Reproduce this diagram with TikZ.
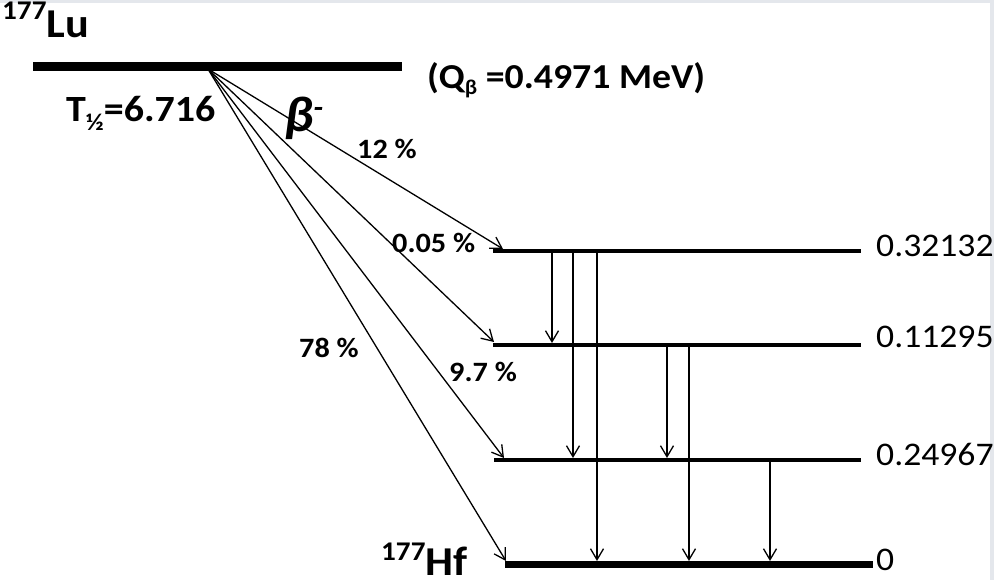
\documentclass[tikz,border=0pt]{standalone}
\usepackage{fontspec}
\setmainfont[FakeStretch=1.08]{Carlito}
\usetikzlibrary{arrows.meta}
\definecolor{bordergray}{RGB}{228,231,236}
\begin{document}
\begin{tikzpicture}[x=1pt,y=-1pt,
  lvl/.style={line width=4.5pt},
  arr/.style={line width=1.3pt,-{Straight Barb[length=11pt,width=13pt]}},
  pct/.style={font=\fontsize{28}{28}\selectfont\bfseries,anchor=base west,inner sep=0pt},
  en/.style={font=\fontsize{33}{33}\selectfont,anchor=base west,inner sep=0pt},
  big/.style={anchor=base west,inner sep=0pt}]
\useasboundingbox (0,0) rectangle (994,580);
\clip (0,0) rectangle (994,580);
\fill[white] (0,0) rectangle (994,580);
\fill[bordergray] (0,0) rectangle (994,3);
\fill[bordergray] (990,0) rectangle (994,580);
% level end points
\coordinate (luA) at (33,67);  \coordinate (luB) at (402,67);
\coordinate (l1A) at (493,251); \coordinate (l1B) at (861,251);
\coordinate (l2A) at (493,345); \coordinate (l2B) at (861,345);
\coordinate (l3A) at (494,460); \coordinate (l3B) at (861,460);
\coordinate (l0A) at (505,564); \coordinate (l0B) at (873,564);
\draw[line width=9pt] (luA) -- (luB);
\draw[lvl] (l1A) -- (l1B);
\draw[lvl] (l2A) -- (l2B);
\draw[lvl] (l3A) -- (l3B);
\draw[line width=7pt] (l0A) -- (l0B);
% beta branches
\coordinate (o) at (208,69);
\coordinate (b1) at (503,249);
\coordinate (b2) at (494,342);
\coordinate (b3) at (504,458);
\coordinate (b4) at (506,561);
\draw[arr] (o) -- (b1);
\draw[arr] (o) -- (b2);
\draw[arr] (o) -- (b3);
\draw[arr] (o) -- (b4);
% gamma transitions
\coordinate (g1s) at (552,253); \coordinate (g1e) at (552,343);
\coordinate (g2s) at (573,253); \coordinate (g2e) at (573,458);
\coordinate (g3s) at (597,253); \coordinate (g3e) at (597,561);
\coordinate (g4s) at (667,347); \coordinate (g4e) at (667,458);
\coordinate (g5s) at (689,347); \coordinate (g5e) at (689,561);
\coordinate (g6s) at (770,462); \coordinate (g6e) at (770,561);
\draw[arr] (g1s) -- (g1e);
\draw[arr] (g2s) -- (g2e);
\draw[arr] (g3s) -- (g3e);
\draw[arr] (g4s) -- (g4e);
\draw[arr] (g5s) -- (g5e);
\draw[arr] (g6s) -- (g6e);
% texts
\node[big] (lu) at (2,38) {\bfseries\fontsize{27}{27}\selectfont\raisebox{18pt}{177}\fontsize{41}{41}\selectfont Lu};
\node[big] (hf) at (381,575) {\bfseries\fontsize{27}{27}\selectfont\raisebox{15pt}{177}\fontsize{41}{41}\selectfont Hf};
\node[big] (thalf) at (66,122) {\bfseries\fontsize{37}{37}\selectfont T\raisebox{-9pt}{\fontsize{24}{24}\selectfont ½}=6.716};
\node[big] (q) at (427,89) {\bfseries\fontsize{35}{35}\selectfont (Q\raisebox{-6pt}{\fontsize{21}{21}\selectfont β} =0.4971 MeV)};
\node[big] (beta) at (284,132) {\bfseries\itshape\fontsize{50}{50}\selectfont β\raisebox{14pt}{\fontsize{30}{30}\selectfont -}};
\node[pct] (p12) at (357,159) {12 \%};
\node[pct] (p005) at (392,253) {0.05 \%};
\node[pct] (p97) at (449,381) {9.7 \%};
\node[pct] (p78) at (299,357) {78 \%};
\node[en] (e1) at (876,257) {0.32132};
\node[en] (e2) at (876,348) {0.11295};
\node[en] (e3) at (876,465) {0.24967};
\node[en] (e0) at (876,570) {0};
\end{tikzpicture}
\end{document}
